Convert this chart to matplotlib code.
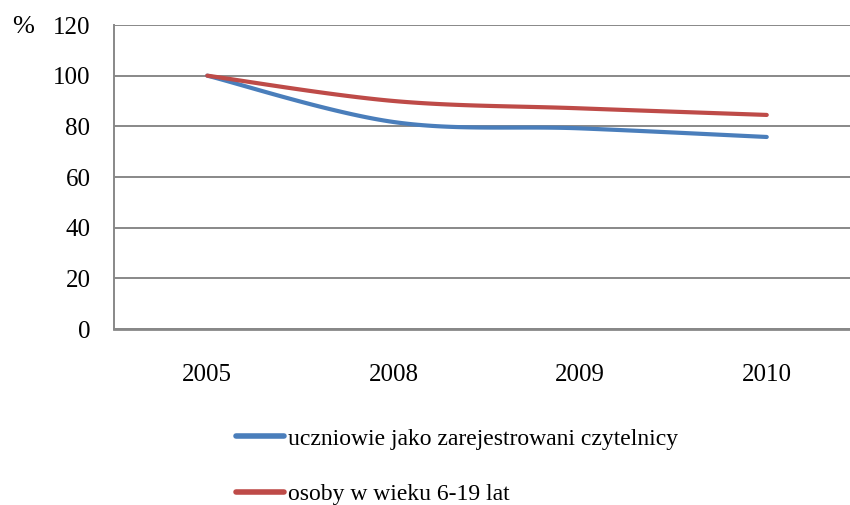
import numpy as np
import matplotlib.pyplot as plt

# data
years = ["2005", "2008", "2009", "2010"]
uczniowie = [100, 81.7, 79.2, 75.8]
osoby = [100, 90.0, 87.1, 84.5]
labels = ["uczniowie jako zarejestrowani czytelnicy", "osoby w wieku 6-19 lat"]
yticks = [0, 20, 40, 60, 80, 100, 120]

plt.rcParams["font.family"] = ["Liberation Serif", "DejaVu Serif"]


# Excel-like smoothed line (Bezier through the points)
def smooth(x, y, n=40):
	x = np.asarray(x, float)
	y = np.asarray(y, float)
	px, py = [], []
	for i in range(len(x) - 1):
		x0, y0 = (x[i - 1], y[i - 1]) if i > 0 else (x[i], y[i])
		x3, y3 = (x[i + 2], y[i + 2]) if i + 2 < len(x) else (x[i + 1], y[i + 1])
		c1 = (x[i] + (x[i + 1] - x0) / 6, y[i] + (y[i + 1] - y0) / 6)
		c2 = (x[i + 1] - (x3 - x[i]) / 6, y[i + 1] - (y3 - y[i]) / 6)
		t = np.linspace(0, 1, n)
		a, b, c, d = (1 - t) ** 3, 3 * (1 - t) ** 2 * t, 3 * (1 - t) * t ** 2, t ** 3
		px.extend(a * x[i] + b * c1[0] + c * c2[0] + d * x[i + 1])
		py.extend(a * y[i] + b * c1[1] + c * c2[1] + d * y[i + 1])
	return px, py


fig = plt.figure(figsize=(8.5, 5.05), dpi=100)
ax = fig.add_axes([114 / 850, 1 - 329 / 505, (860 - 114) / 850, (329 - 25) / 505])

xs = np.arange(len(years))
sx, sy = smooth(xs, uczniowie)
l1, = ax.plot(sx, sy, color="#4A7EBB", lw=3, solid_capstyle="round")
sx, sy = smooth(xs, osoby)
l2, = ax.plot(sx, sy, color="#BE4B48", lw=3, solid_capstyle="round")

ax.set_xlim(-0.5, len(years) - 0.5)
ax.set_ylim(0, 120)
ax.set_xticks(xs)
ax.set_xticklabels(years)
ax.set_yticks(yticks)
ax.tick_params(axis="both", length=0, labelsize=18)
ax.tick_params(axis="y", pad=17)
ax.tick_params(axis="x", pad=25)
ax.yaxis.grid(True, color="#888888", lw=1.4)
ax.set_axisbelow(True)
for s in ["top", "right"]:
	ax.spines[s].set_visible(False)
ax.spines["left"].set_color("#888888")
ax.spines["left"].set_linewidth(1.4)
ax.spines["bottom"].set_color("#888888")
ax.spines["bottom"].set_linewidth(2)

fig.text(12 / 850, 1 - 27 / 505, "%", fontsize=19, va="center", ha="left")

leg = fig.legend([l1, l2], labels, loc="upper left", bbox_to_anchor=(236 / 850, 1 - 428 / 505),
	frameon=False, fontsize=17, handlelength=2.05, handletextpad=0.15, labelspacing=1.45,
	borderaxespad=0, borderpad=0)
for h in leg.legend_handles:
	h.set_linewidth(4)

fig.savefig("out.png", dpi=100)
